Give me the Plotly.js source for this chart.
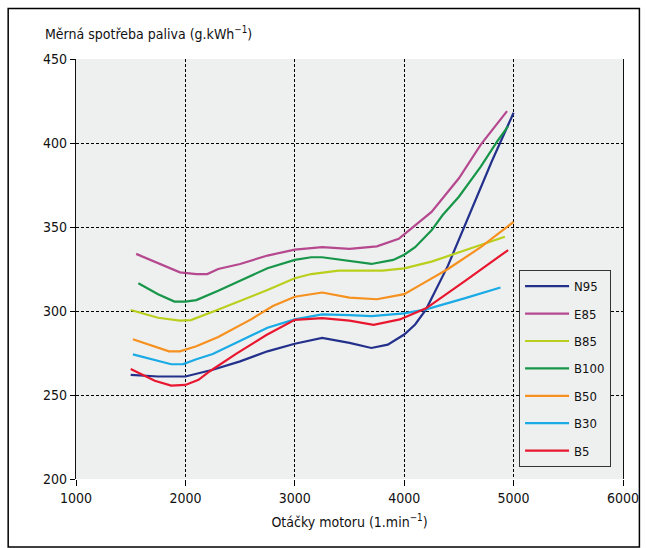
<!DOCTYPE html>
<html>
<head>
<meta charset="utf-8">
<script src="https://cdn.plot.ly/plotly-3.0.1.min.js"></script>
<style>html,body{margin:0;padding:0;background:#fff;}#chart{width:646px;height:548px;}</style>
</head>
<body>
<div id="chart"></div>
<script>
const seriesNames = ["N95", "E85", "B85", "B100", "B50", "B30", "B5"];
const seriesColors = ["#23318c", "#b5488f", "#b9cf1c", "#17964a", "#f6901e", "#1aaae6", "#e8172f"];

const n95X = [1500, 1750, 2000, 2250, 2500, 2750, 3000, 3250, 3500, 3700, 3850, 4000, 4100, 4200, 4400, 4600, 4800, 5000];
const n95Y = [262, 261, 261, 265, 270, 276, 280.5, 284, 281, 278, 280, 286, 292, 301, 327, 358, 389, 418];

const e85X = [1550, 1750, 1950, 2100, 2200, 2300, 2500, 2750, 3000, 3250, 3500, 3750, 3950, 4100, 4250, 4500, 4700, 4940];
const e85Y = [334, 328.5, 323, 322, 322, 325, 328, 333, 336.5, 338, 337, 338.5, 343, 351, 359, 379, 399, 419];

const b85X = [1500, 1750, 1950, 2050, 2250, 2500, 2750, 3000, 3150, 3400, 3600, 3800, 4000, 4250, 4550, 4920];
const b85Y = [300.6, 296, 294.3, 294.6, 299.5, 306, 312.5, 319.5, 322, 324, 324, 324, 325.4, 329.4, 336, 344.2];

const b100X = [1570, 1750, 1900, 2000, 2100, 2300, 2500, 2750, 3000, 3150, 3250, 3500, 3700, 3900, 4000, 4100, 4250, 4350, 4500, 4700, 4850, 4950];
const b100Y = [316.5, 310, 305.6, 305.6, 306.5, 312, 318, 325.5, 330.4, 332, 332, 330, 328, 330.4, 333.5, 338, 348, 357, 368, 386, 401, 410];

const b50X = [1520, 1850, 1950, 2100, 2300, 2600, 2800, 3000, 3250, 3500, 3750, 4000, 4200, 4400, 4700, 5000];
const b50Y = [283.2, 276, 276, 279, 284.5, 295, 303, 308.5, 311, 308, 307, 310, 317.5, 325, 338, 353];

const b30X = [1520, 1750, 1870, 1980, 2100, 2250, 2550, 2750, 3000, 3250, 3500, 3700, 4000, 4200, 4550, 4880];
const b30Y = [274.2, 270.5, 268.3, 268.4, 271.3, 274.4, 283.5, 290, 295, 298, 297.5, 297, 298.6, 301, 307.5, 314];

const b5X = [1500, 1720, 1870, 2000, 2120, 2220, 2470, 2740, 3000, 3250, 3500, 3720, 3960, 4200, 4570, 4950];
const b5Y = [265.5, 258.5, 255.6, 256, 259, 264, 274.8, 285.7, 294.7, 295.7, 294.3, 291.7, 295, 301.6, 318.5, 336.3];

const xTicks = [1000, 2000, 3000, 4000, 5000, 6000];
const yTicks = [200, 250, 300, 350, 400, 450];

const allX = [n95X, e85X, b85X, b100X, b50X, b30X, b5X];
const allY = [n95Y, e85Y, b85Y, b100Y, b50Y, b30Y, b5Y];

const tickFont = {family: "'Liberation Sans Narrow', 'DejaVu Sans Condensed', Arial, sans-serif", size: 14, color: "#111"};

const traces = seriesNames.map((name, i) => ({
  type: "scatter",
  mode: "lines",
  name: name,
  x: allX[i],
  y: allY[i],
  legendgroup: name,
  line: {color: seriesColors[i], width: 2.2}
}));

const layout = {
  width: 646,
  height: 548,
  paper_bgcolor: "#ffffff",
  plot_bgcolor: "#eef0ef",
  margin: {l: 76, r: 23, t: 59, b: 69},
  showlegend: true,
  legend: {
    x: 0.81, y: 0.497, xanchor: "left", yanchor: "top",
    bgcolor: "#eef0ef", bordercolor: "#333", borderwidth: 1,
    font: {family: "'DejaVu Sans Condensed', 'DejaVu Sans', sans-serif", size: 13, color: "#111"},
    traceorder: "grouped", tracegroupgap: 7.5, itemwidth: 44
  },
  xaxis: {
    range: [1000, 6000],
    tickvals: xTicks,
    ticktext: xTicks.map(String),
    ticks: "outside", ticklen: 6, tickcolor: "#000",
    showgrid: true, gridcolor: "#000", gridwidth: 1, griddash: "3px,2px",
    showline: false, zeroline: false,
    tickfont: tickFont,
    title: {text: "Otáčky motoru (1.min<sup>−1</sup>)", font: tickFont, standoff: 12}
  },
  yaxis: {
    range: [200, 450],
    tickvals: yTicks,
    ticktext: yTicks.map(String),
    ticks: "outside", ticklen: 5, tickcolor: "#000",
    showgrid: true, gridcolor: "#000", gridwidth: 1, griddash: "3px,2px",
    showline: true, mirror: true, linecolor: "#111", linewidth: 1.2,
    zeroline: false,
    tickfont: tickFont
  },
  annotations: [{
    xref: "paper", yref: "paper",
    x: -0.06, y: 1.035, xanchor: "left", yanchor: "bottom",
    text: "Měrná spotřeba paliva (g.kWh<sup>−1</sup>)",
    showarrow: false,
    font: tickFont
  }],
  shapes: [{
    type: "rect", xref: "paper", yref: "paper",
    x0: -0.124, x1: 1.03, y0: -0.162, y1: 1.12,
    line: {color: "#000", width: 1.5}
  }]
};

Plotly.newPlot("chart", traces, layout, {displayModeBar: false, staticPlot: true});
</script>
</body>
</html>
